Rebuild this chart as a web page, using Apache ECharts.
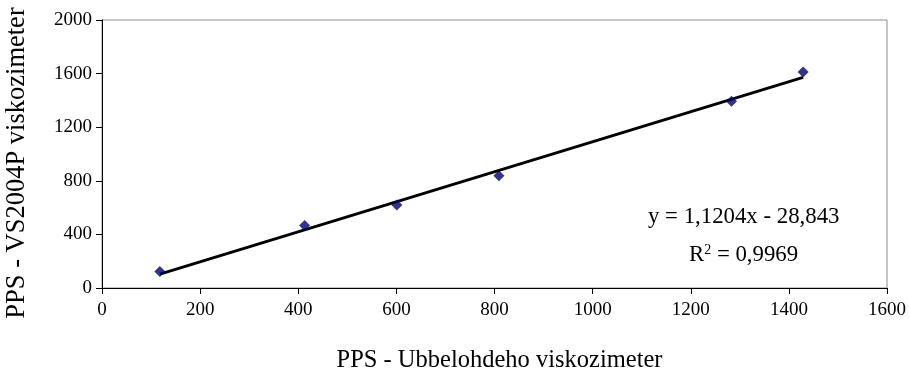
<!DOCTYPE html>
<html>
<head>
<meta charset="utf-8">
<script src="https://cdn.jsdelivr.net/npm/echarts@6/dist/echarts.min.js"></script>
<style>
  html, body { margin: 0; padding: 0; background: #fff; }
  #chart { width: 909px; height: 376px; }
</style>
</head>
<body>
<div id="chart"></div>
<script>
  // merania: Ubbelohde (x) vs VS2004P (y)
  var ubbelohde = [118, 413, 601, 809, 1283, 1429];
  var vs2004p = [124, 467, 619, 838, 1393, 1612];
  var xTicks = [0, 200, 400, 600, 800, 1000, 1200, 1400, 1600];
  var yTicks = [0, 400, 800, 1200, 1600, 2000];
  // linearny trend z grafu
  var slope = 1.1204;
  var intercept = -28.843;
  var r2 = '0,9969';

  var points = ubbelohde.map(function (x, i) { return [x, vs2004p[i]]; });
  var xMin = Math.min.apply(null, ubbelohde);
  var xMax = Math.max.apply(null, ubbelohde);
  var trend = [[xMin, slope * xMin + intercept], [xMax, slope * xMax + intercept]];

  var font = '"Liberation Serif", "Times New Roman", serif';
  var myChart = echarts.init(document.getElementById('chart'));
  myChart.setOption({
    animation: false,
    textStyle: { fontFamily: font },
    grid: {
      left: 102,
      right: 22,
      top: 20,
      bottom: 88,
      outerBoundsMode: 'none',
      containLabel: false,
      show: true,
      borderColor: '#8c8c8c',
      borderWidth: 1,
      backgroundColor: '#fff'
    },
    xAxis: {
      type: 'value',
      min: xTicks[0],
      max: xTicks[xTicks.length - 1],
      interval: 200,
      name: 'PPS - Ubbelohdeho viskozimeter',
      nameLocation: 'middle',
      nameGap: 60,
      nameTextStyle: { fontSize: 24.5, color: '#000', fontFamily: font, padding: [0, 0, 0, 10] },
      axisLine: { lineStyle: { color: '#000', width: 1 } },
      axisTick: { show: true, length: 6, lineStyle: { color: '#000' } },
      axisLabel: { fontSize: 19, color: '#000', margin: 13, fontFamily: font,
        formatter: function (v) { return String(v); } },
      splitLine: { show: false }
    },
    yAxis: {
      type: 'value',
      min: yTicks[0],
      max: yTicks[yTicks.length - 1],
      interval: 400,
      name: 'PPS - VS2004P viskozimeter',
      nameLocation: 'middle',
      nameGap: 71,
      nameTextStyle: { fontSize: 26.5, color: '#000', fontFamily: font, padding: [0, 18, 0, 0] },
      axisLine: { show: true, lineStyle: { color: '#000', width: 1 } },
      axisTick: { show: true, length: 6, lineStyle: { color: '#000' } },
      axisLabel: { fontSize: 19, color: '#000', margin: 10, fontFamily: font,
        formatter: function (v) { return String(v); } },
      splitLine: { show: false }
    },
    series: [
      {
        name: 'trend',
        type: 'line',
        data: trend,
        symbol: 'none',
        lineStyle: { color: '#000', width: 3 },
        z: 2
      },
      {
        name: 'body',
        type: 'scatter',
        data: points,
        symbol: 'diamond',
        symbolSize: 11,
        itemStyle: { color: '#00006e' },
        z: 3
      }
    ],
    graphic: [
      {
        type: 'text',
        left: 648,
        top: 206,
        style: {
          text: 'y = 1,1204x - 28,843',
          font: '22.8px "Liberation Serif", serif',
          fill: '#000'
        }
      },
      {
        type: 'text',
        left: 689,
        top: 243,
        style: {
          text: '{b|R}{s|2}{b| = ' + r2 + '}',
          fill: '#000',
          rich: {
            b: { fontSize: 22.8, fontFamily: font, color: '#000', verticalAlign: 'bottom' },
            s: { fontSize: 14, fontFamily: font, color: '#000', verticalAlign: 'top', padding: [0, 0, 10, 0] }
          }
        }
      }
    ]
  });
</script>
</body>
</html>
